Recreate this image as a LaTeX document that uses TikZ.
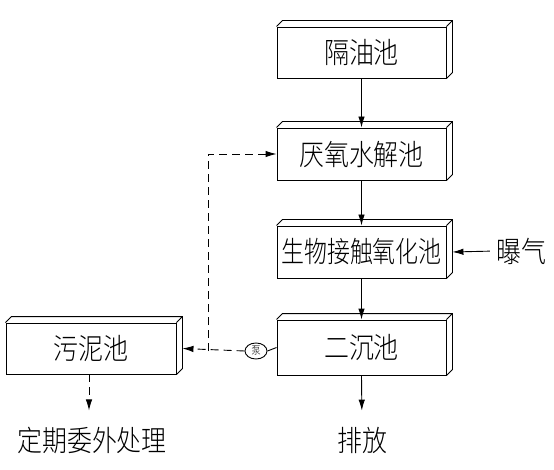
\documentclass[tikz,border=0pt]{standalone}
\usepackage{fontspec}
\usetikzlibrary{arrows.meta,shapes.geometric,calc}
\IfFontExistsTF{Noto Sans CJK SC Light}{\newfontfamily\cjk[FakeStretch=0.86]{Noto Sans CJK SC Light}}{\newfontfamily\cjk[FakeStretch=0.86]{Noto Sans CJK SC}}
\tikzset{
 pool/.style={draw, line width=0.9pt, minimum height=51pt, minimum width=169pt, inner sep=0pt, font=\cjk\fontsize{29}{29}\selectfont},
 lbl/.style={inner sep=0pt, font=\cjk\fontsize{29}{29}\selectfont},
 flow/.style={line width=0.9pt, -{Latex[length=11pt,width=6.5pt]}},
 dflow/.style={flow, dash pattern=on 8pt off 5pt},
 pumpnode/.style={draw, ellipse, line width=0.9pt, minimum width=22pt, minimum height=16pt, inner sep=0pt, font=\cjk\fontsize{11}{11}\selectfont},
}
\newcommand\cubeface[1]{\draw[line width=0.9pt] (#1.north west) -- ++(6,-6) -- ($(#1.north east)+(6,-6)$) -- ($(#1.south east)+(6,-6)$) -- (#1.south east) (#1.north east) -- ++(6,-6);}
\begin{document}
\begin{tikzpicture}[x=1pt,y=-1pt]
\useasboundingbox (0,0) rectangle (554,470);
\node[pool] (b1) at (361.5,52.5) {隔油池};
\node[pool, minimum height=52pt] (b2) at (361.5,154) {厌氧水解池};
\node[pool, minimum height=52pt] (b3) at (361.5,252) {\scalebox{0.92}[1]{生物接触氧化池}};
\node[pool, minimum height=55pt] (b4) at (361.5,347.5) {二沉池};
\node[pool, minimum width=170pt] (sl) at (91,348.5) {污泥池};
\foreach \b in {b1,b2,b3,b4,sl}{\cubeface{\b}}
\node[lbl] (air) at (521,251) {曝气};
\node[lbl] (out) at (362,440) {排放};
\node[lbl] (ext) at (92,440) {定期委外处理};
\node[pumpnode] (p) at (256,351) {泵};
\coordinate (j) at (208,351);
\coordinate (s1) at ($(sl.south)+(-2,0)$);
\draw[flow] (b1) -- (b2);
\draw[flow] (b2) -- (b3);
\draw[flow] (b3) -- (b4);
\draw[flow, shorten >=16pt] (b4.south) -- (out.north);
\draw[flow, shorten <=6pt] (air.west) -- ($(b3.east)+(6,0)$);
\draw[line width=0.9pt] (b4.west) -- (p.east);
\draw[dflow] (p.west) -- ($(sl.east)+(6,0)$);
\draw[dflow] (j) |- (b2.west);
\draw[dflow, shorten >=16pt] (s1) -- (s1 |- ext.north);
\end{tikzpicture}
\end{document}
